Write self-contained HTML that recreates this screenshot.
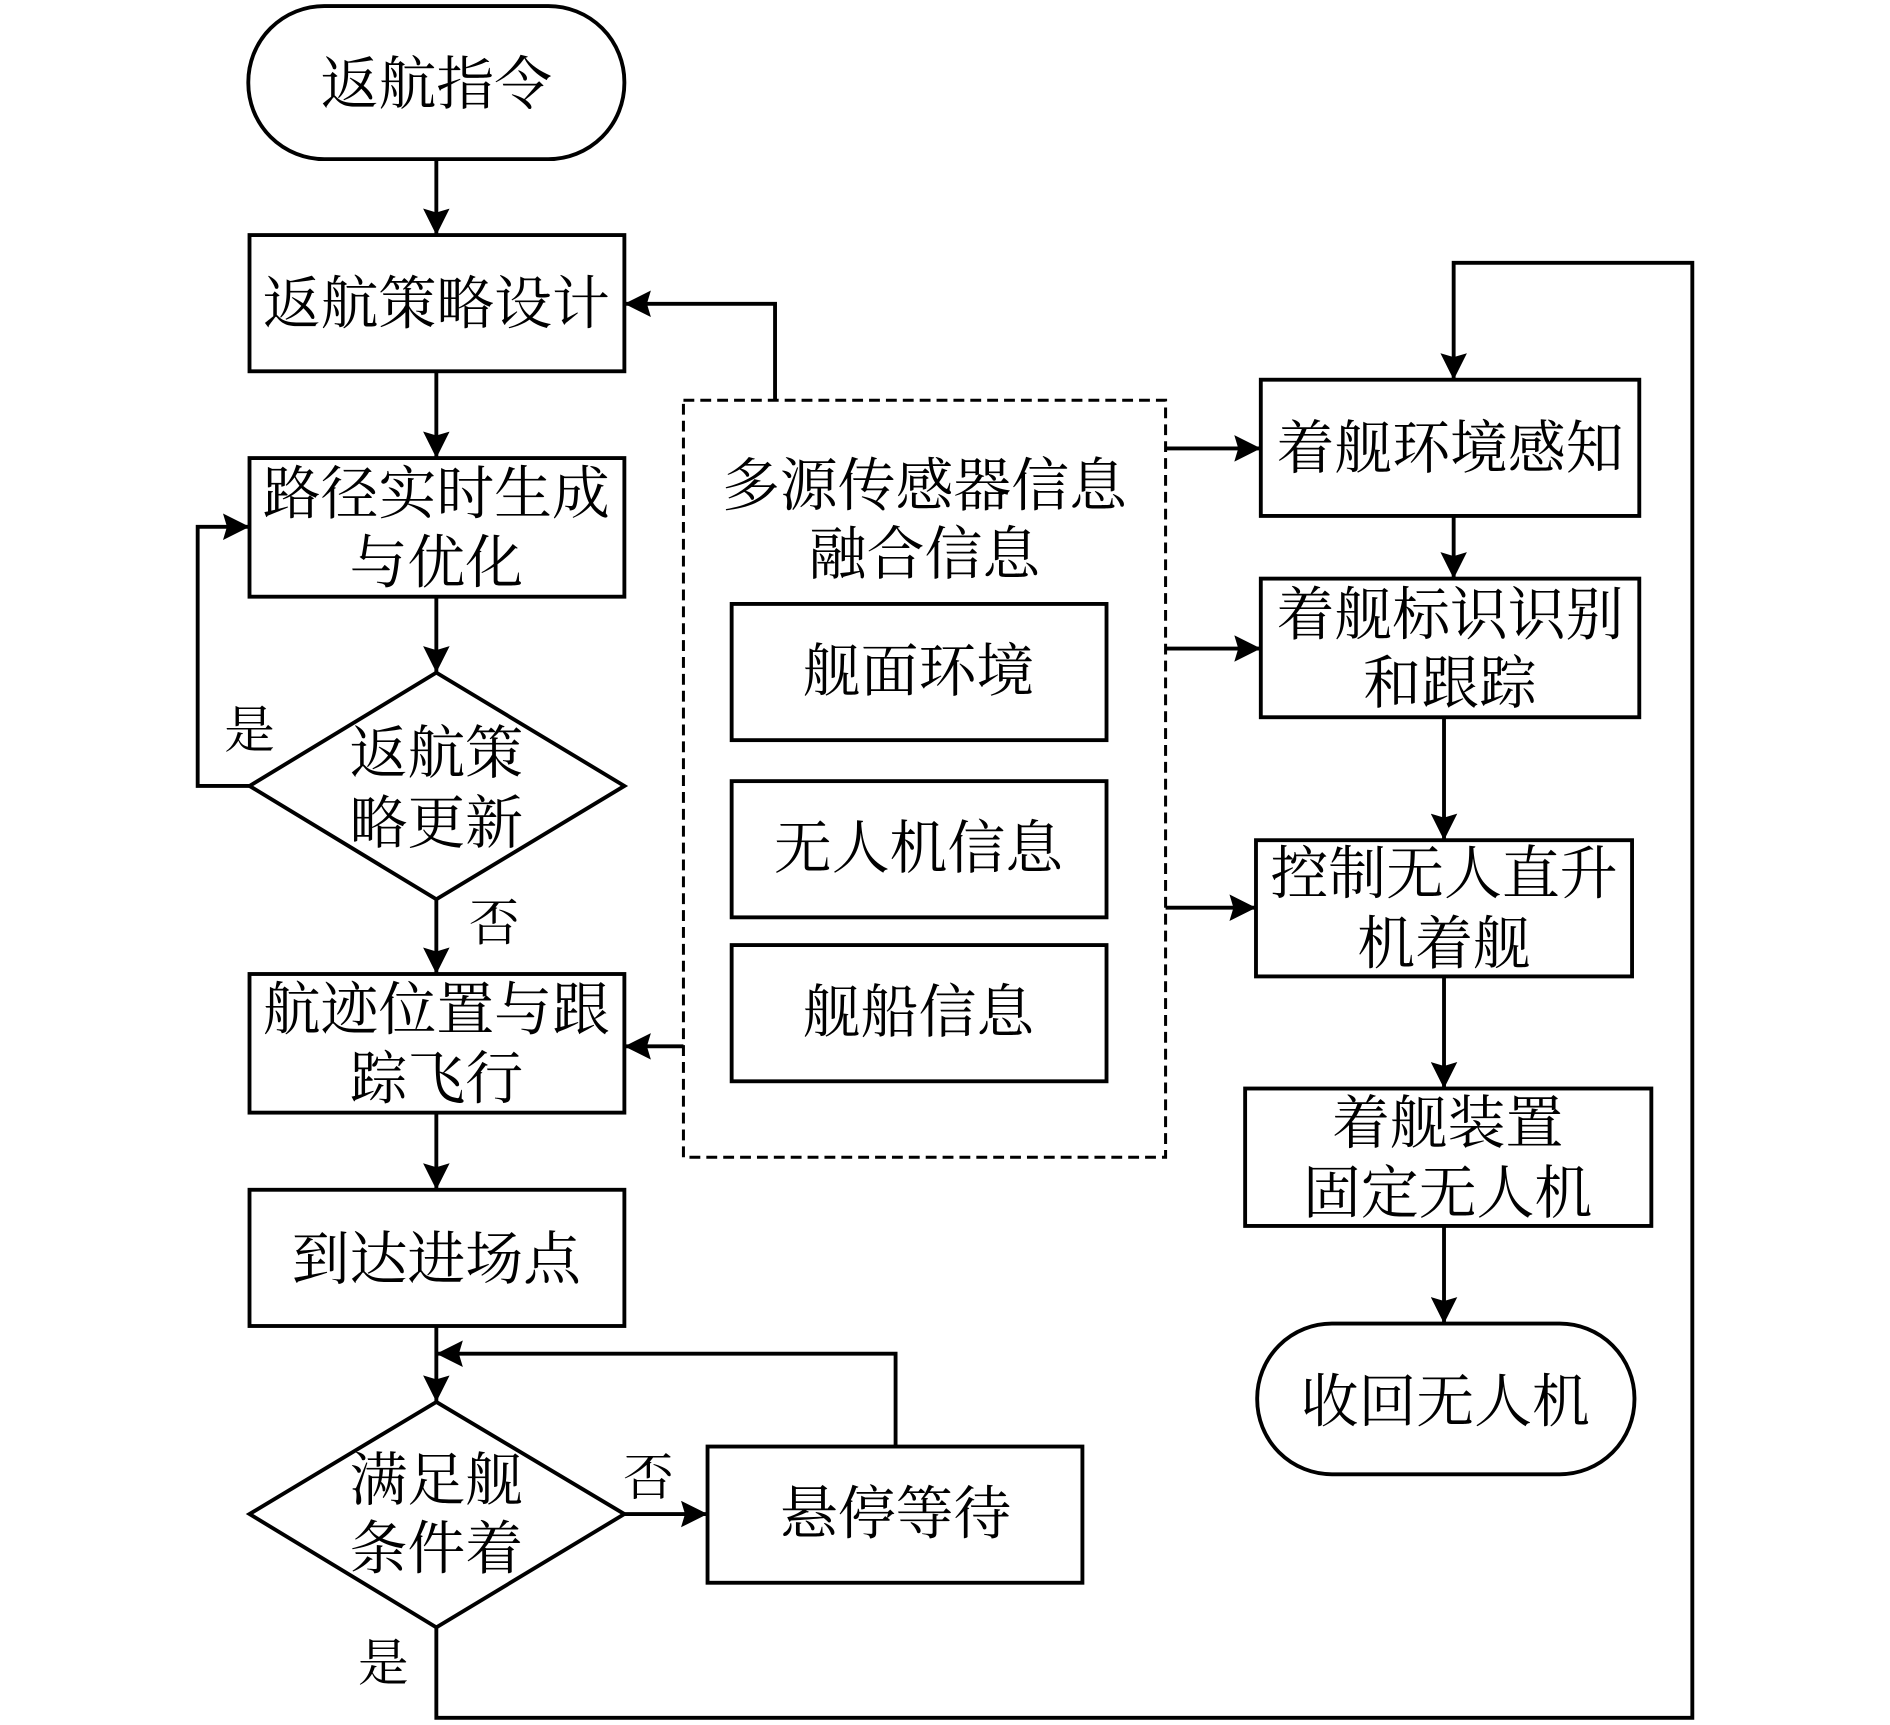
<!DOCTYPE html>
<html><head><meta charset="utf-8"><style>
html,body{margin:0;padding:0;background:#fff;}
svg{display:block;}
text{font-family:"Liberation Serif","Noto Serif CJK SC","Noto Sans CJK SC",serif;font-size:48px;fill:#000;text-anchor:middle;dominant-baseline:central;}
</style></head><body>
<svg width="1890" height="1725" viewBox="0 0 1568 1431" preserveAspectRatio="none" xmlns="http://www.w3.org/2000/svg">
<defs>
<marker id="a" viewBox="0 0 10 10" refX="10" refY="5" markerWidth="28" markerHeight="22" markerUnits="userSpaceOnUse" orient="auto">
<path d="M0,0 L10,5 L0,10 L1.5,5 z" fill="#000"/></marker>
</defs>
<g fill="none" stroke="#000" stroke-width="3.2">
<rect x="206" y="5" width="312" height="127" rx="63"/>
<rect x="207" y="195" width="311" height="113"/>
<rect x="207" y="380" width="311" height="115"/>
<polygon points="362,558 518,652 362,746 207,652"/>
<rect x="207" y="808" width="311" height="115"/>
<rect x="207" y="987" width="311" height="113"/>
<polygon points="362,1163 518,1256 362,1350 207,1256"/>
<rect x="587" y="1200" width="311" height="113"/>
<rect x="567" y="332" width="400" height="628" stroke-dasharray="9,5" stroke-width="2.5"/>
<rect x="607" y="501" width="311" height="113"/>
<rect x="607" y="648" width="311" height="113"/>
<rect x="607" y="784" width="311" height="113"/>
<rect x="1046" y="315" width="314" height="113"/>
<rect x="1046" y="480" width="314" height="115"/>
<rect x="1042" y="697" width="312" height="113"/>
<rect x="1033" y="903" width="337" height="114"/>
<rect x="1043" y="1098" width="313" height="125" rx="62"/>
<g marker-end="url(#a)">
<line x1="362" y1="132" x2="362" y2="195"/>
<line x1="362" y1="308" x2="362" y2="380"/>
<line x1="362" y1="495" x2="362" y2="558"/>
<polyline points="207,652 164,652 164,437 207,437"/>
<line x1="362" y1="746" x2="362" y2="808"/>
<line x1="362" y1="923" x2="362" y2="987"/>
<line x1="362" y1="1100" x2="362" y2="1163"/>
<line x1="518" y1="1256" x2="587" y2="1256"/>
<polyline points="743,1200 743,1123 362,1123"/>
<polyline points="362,1350 362,1425 1404,1425 1404,218 1206,218 1206,315"/>
<polyline points="643,332 643,252 518,252"/>
<line x1="567" y1="868" x2="518" y2="868"/>
<line x1="967" y1="372" x2="1046" y2="372"/>
<line x1="967" y1="538" x2="1046" y2="538"/>
<line x1="967" y1="753" x2="1042" y2="753"/>
<line x1="1206" y1="428" x2="1206" y2="480"/>
<line x1="1198" y1="595" x2="1198" y2="697"/>
<line x1="1198" y1="810" x2="1198" y2="903"/>
<line x1="1198" y1="1017" x2="1198" y2="1098"/>
</g>
</g>
<text x="362" y="70">返航指令</text>
<text x="362" y="252">返航策略设计</text>
<text x="362" y="410">路径实时生成</text>
<text x="362" y="467">与优化</text>
<text x="362" y="625">返航策</text>
<text x="362" y="683">略更新</text>
<text x="207" y="606" style="font-size:42px">是</text>
<text x="410" y="766" style="font-size:42px">否</text>
<text x="362" y="838">航迹位置与跟</text>
<text x="362" y="895">踪飞行</text>
<text x="362" y="1045">到达进场点</text>
<text x="362" y="1228">满足舰</text>
<text x="362" y="1285">条件着</text>
<text x="538" y="1226" style="font-size:42px">否</text>
<text x="318" y="1380" style="font-size:42px">是</text>
<text x="743" y="1256">悬停等待</text>
<text x="767" y="403">多源传感器信息</text>
<text x="767" y="460">融合信息</text>
<text x="762" y="557">舰面环境</text>
<text x="762" y="704">无人机信息</text>
<text x="762" y="840">舰船信息</text>
<text x="1203" y="372">着舰环境感知</text>
<text x="1203" y="510">着舰标识识别</text>
<text x="1203" y="567">和跟踪</text>
<text x="1198" y="725">控制无人直升</text>
<text x="1198" y="783">机着舰</text>
<text x="1201" y="932">着舰装置</text>
<text x="1201" y="990">固定无人机</text>
<text x="1199" y="1163">收回无人机</text>
</svg>
</body></html>
